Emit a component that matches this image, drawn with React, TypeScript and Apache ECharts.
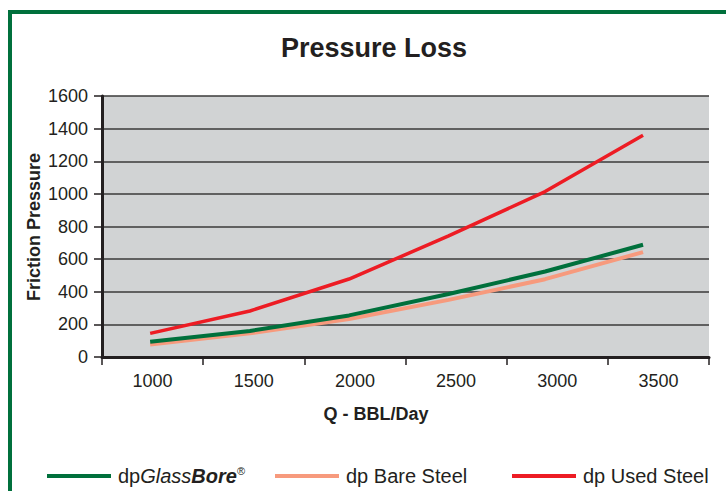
import React, { useEffect, useRef } from "react";
import * as echarts from "echarts";

const flowValues = [988, 1481, 1971, 2463, 2940, 3424];
const glassBore = [93, 160, 255, 386, 524, 688];
const bareSteel = [76, 145, 233, 350, 477, 643];
const usedSteel = [145, 282, 478, 742, 1014, 1360];
const xTickValues = [750, 1250, 1750, 2250, 2750, 3250, 3750];
const xLabelValues = [1000, 1500, 2000, 2500, 3000, 3500];

const FONT = "Liberation Sans, Arial, Helvetica, sans-serif";
const GREEN = "#00703c";
const SALMON = "#f79a7d";
const RED = "#ed1c24";
const TEXT = "#231f20";

export default function App() {
  const ref = useRef<HTMLDivElement>(null);
  useEffect(() => {
    if (!ref.current) return;
    const chart = echarts.init(ref.current, null, { renderer: "svg" });
    const pair = (ys: number[]) => flowValues.map((x, i) => [x, ys[i]]);
    const legendBase = {
      top: 460,
      icon: "rect",
      itemWidth: 64,
      itemHeight: 4,
      textStyle: { fontSize: 20, color: TEXT, fontFamily: FONT, padding: [0, 0, 0, 2], lineHeight: 22 },
    };
    chart.setOption({
      animation: false,
      textStyle: { fontFamily: FONT },
      grid: {
        left: 102,
        right: 17,
        top: 96,
        bottom: 134,
        show: true,
        backgroundColor: "#d1d3d4",
        borderWidth: 0,
      },
      graphic: [
        {
          type: "rect",
          shape: { x: 10, y: 12, width: 900, height: 700 },
          style: { fill: "none", stroke: GREEN, lineWidth: 4 },
          silent: true,
        },
        {
          type: "text",
          x: 374,
          y: 48,
          style: {
            text: "Pressure Loss",
            font: `bold 27px ${FONT}`,
            fill: TEXT,
            align: "center",
            verticalAlign: "middle",
          },
        },
        {
          type: "text",
          x: 34,
          y: 227,
          rotation: Math.PI / 2,
          style: {
            text: "Friction Pressure",
            font: `bold 18px ${FONT}`,
            fill: TEXT,
            align: "center",
            verticalAlign: "middle",
          },
        },
        {
          type: "text",
          x: 376,
          y: 414,
          style: {
            text: "Q - BBL/Day",
            font: `bold 18px ${FONT}`,
            fill: TEXT,
            align: "center",
            verticalAlign: "middle",
          },
        },
      ],
      legend: [
        {
          ...legendBase,
          left: 42,
          data: ["dpGlassBore"],
          formatter: () => "{n|dp}{i|Glass}{b|Bore}{r|®}",
          textStyle: {
            ...legendBase.textStyle,
            rich: {
              n: { fontSize: 20, color: TEXT, fontFamily: FONT },
              i: { fontSize: 20, color: TEXT, fontFamily: FONT, fontStyle: "italic" },
              b: { fontSize: 20, color: TEXT, fontFamily: FONT, fontStyle: "italic", fontWeight: "bold" },
              r: { fontSize: 11, color: TEXT, fontFamily: FONT, verticalAlign: "top", lineHeight: 14 },
            },
          },
        },
        { ...legendBase, left: 270, data: ["dp Bare Steel"] },
        { ...legendBase, left: 507, data: ["dp Used Steel"] },
      ],
      xAxis: {
        type: "value",
        min: 750,
        max: 3750,
        splitLine: { show: false },
        axisLine: { show: true, onZero: false, lineStyle: { color: TEXT, width: 3 } },
        axisTick: { show: true, customValues: xTickValues, length: 8, lineStyle: { color: TEXT, width: 1.5 } },
        axisLabel: {
          customValues: xLabelValues,
          formatter: (v: number) => String(v),
          fontSize: 18,
          color: TEXT,
          margin: 15,
          fontFamily: FONT,
        },
      },
      yAxis: {
        type: "value",
        min: 0,
        max: 1600,
        interval: 200,
        axisLine: { show: true, lineStyle: { color: TEXT, width: 3 } },
        axisTick: { show: true, length: 8, lineStyle: { color: TEXT, width: 1.5 } },
        axisLabel: { formatter: (v: number) => String(v), fontSize: 18, color: TEXT, margin: 14, fontFamily: FONT },
        splitLine: { show: true, lineStyle: { color: "#3a3a3a", width: 1.5 } },
      },
      series: [
        {
          name: "dp Bare Steel",
          type: "line",
          data: pair(bareSteel),
          showSymbol: false,
          symbol: "none",
          lineStyle: { color: SALMON, width: 4 },
          itemStyle: { color: SALMON },
          z: 2,
        },
        {
          name: "dpGlassBore",
          type: "line",
          data: pair(glassBore),
          showSymbol: false,
          symbol: "none",
          lineStyle: { color: GREEN, width: 4 },
          itemStyle: { color: GREEN },
          z: 3,
        },
        {
          name: "dp Used Steel",
          type: "line",
          data: pair(usedSteel),
          showSymbol: false,
          symbol: "none",
          lineStyle: { color: RED, width: 3.5 },
          itemStyle: { color: RED },
          z: 4,
        },
      ],
    });
    return () => chart.dispose();
  }, []);
  return <div ref={ref} style={{ width: 726, height: 491, position: "absolute", left: 0, top: 0 }} />;
}
